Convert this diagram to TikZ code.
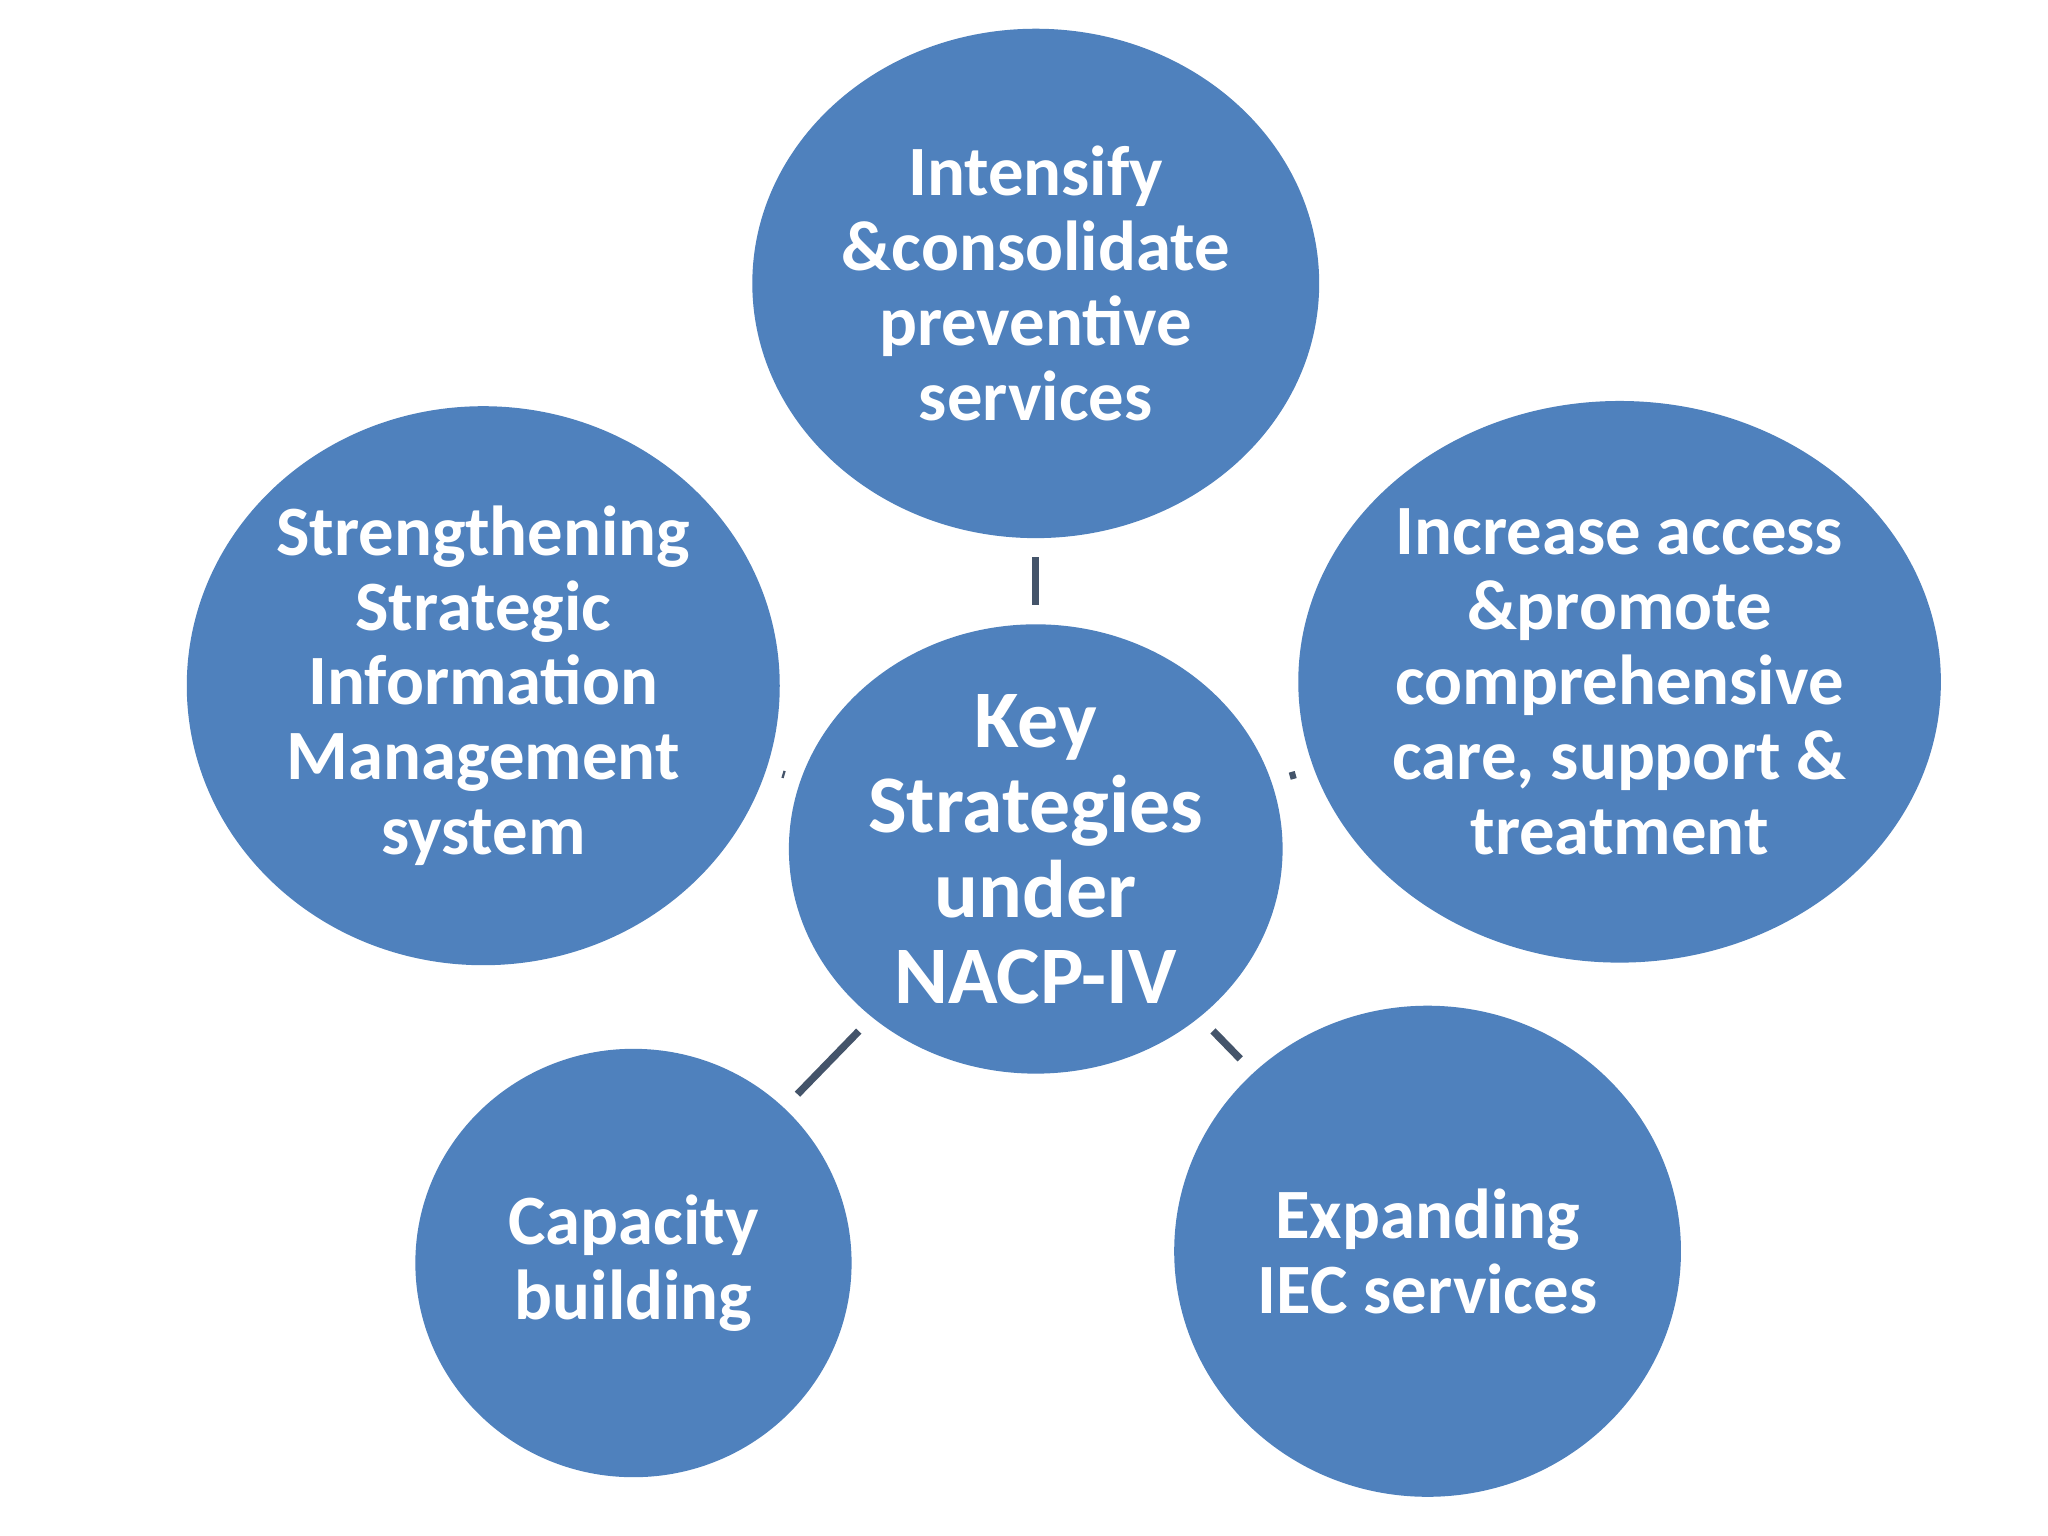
\documentclass[tikz,border=0pt]{standalone}
\usepackage{fontspec}
\setmainfont{Carlito}
\usetikzlibrary{shapes.geometric}
\definecolor{bub}{HTML}{4F81BD}
\definecolor{lnk}{HTML}{44546A}
\begin{document}
\begin{tikzpicture}[x=0.01cm,y=-0.01cm,
  bubble/.style={ellipse,fill=bub,draw=none,inner sep=0pt,text=white,align=center,
    font=\fontsize{15.4pt}{16.3pt}\selectfont\bfseries},
  link/.style={draw=lnk,line width=1.6pt,shorten >=4pt,shorten <=4pt}]
\fill[white] (0,0) rectangle (1568,1176);
\node[bubble,minimum width=434\pgflinewidth/\pgflinewidth*0.01cm,minimum height=0.01cm*390] (top) at (793,217) {Intensify\\\&consolidate\\preventive\\services};
\node[bubble,minimum width=0.01cm*454,minimum height=0.01cm*428] (left) at (370,525) {Strengthening\\Strategic\\Information\\Management\\system};
\node[bubble,minimum width=0.01cm*492,minimum height=0.01cm*430] (right) at (1240,522) {Increase access\\\&promote\\comprehensive\\care, support \&\\treatment};
\node[bubble,minimum width=0.01cm*378,minimum height=0.01cm*344,font=\fontsize{17.8pt}{18.6pt}\selectfont\bfseries] (c) at (793,650) {Key\\Strategies\\under\\NACP-IV};
\node[bubble,minimum width=0.01cm*334,minimum height=0.01cm*328] (bl) at (485,967) {Capacity\\building};
\node[bubble,minimum width=0.01cm*388,minimum height=0.01cm*376] (br) at (1093,958) {Expanding\\IEC services};
\draw[link] (top) -- (c);
\draw[link] (left) -- (c);
\draw[link] (right) -- (c);
\draw[link] (bl) -- (c);
\draw[link] (br) -- (c);
\end{tikzpicture}
\end{document}
